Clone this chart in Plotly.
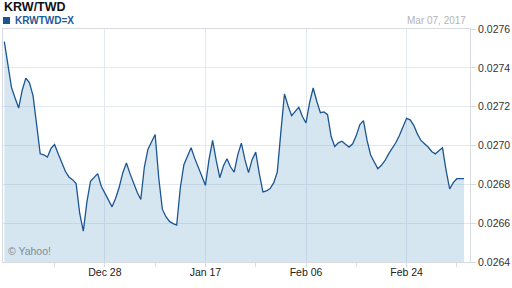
import pandas as pd
import plotly.graph_objects as go

pair = "KRW/TWD"
symbol = "KRWTWD=X"
as_of = "Mar 07, 2017"
credit = "\u00a9 Yahoo!"

start = "2016-12-08"
# half-day samples on trading days
rate = [
    0.027535, 0.027405, 0.027299, 0.027245, 0.027193, 0.027286, 0.027347, 0.027323,
    0.027257, 0.027108, 0.026957, 0.026952, 0.026940, 0.026985, 0.027005, 0.026957,
    0.026910, 0.026867, 0.026838, 0.026824, 0.026804, 0.026650, 0.026559, 0.026710,
    0.026816, 0.026838, 0.026855, 0.026790, 0.026752, 0.026718, 0.026684, 0.026728,
    0.026786, 0.026860, 0.026910, 0.026855, 0.026807, 0.026759, 0.026722, 0.026889,
    0.026981, 0.027017, 0.027057, 0.026834, 0.026672, 0.026633, 0.026609, 0.026598,
    0.026590, 0.026781, 0.026901, 0.026945, 0.026988, 0.026935, 0.026889, 0.026841,
    0.026795, 0.026928, 0.027026, 0.026923, 0.026834, 0.026894, 0.026932, 0.026889,
    0.026863, 0.026952, 0.027012, 0.026927, 0.026860, 0.026927, 0.026966, 0.026855,
    0.026761, 0.026766, 0.026778, 0.026807, 0.026863, 0.027069, 0.027265, 0.027205,
    0.027154, 0.027176, 0.027197, 0.027149, 0.027116, 0.027221, 0.027296, 0.027228,
    0.027169, 0.027173, 0.027159, 0.027046, 0.026995, 0.027014, 0.027022, 0.027007,
    0.026992, 0.027009, 0.027051, 0.027108, 0.027128, 0.027026, 0.026951, 0.026915,
    0.026881, 0.026898, 0.026923, 0.026957, 0.026986, 0.027014, 0.027051, 0.027101,
    0.027140, 0.027132, 0.027104, 0.027060, 0.027026, 0.027009, 0.026992, 0.026969,
    0.026957, 0.026973, 0.026988, 0.026872, 0.026776, 0.026809, 0.026829, 0.026829,
    0.026829,
]

tick_dates = ["2016-12-28", "2017-01-17", "2017-02-06", "2017-02-24"]
tick_labels = ["Dec 28", "Jan 17", "Feb 06", "Feb 24"]
minor_dates = ["2016-12-19", "2017-01-06", "2017-01-26", "2017-02-15", "2017-03-07"]
y_ticks = [0.0264, 0.0266, 0.0268, 0.0270, 0.0272, 0.0274, 0.0276]
x_range = ["2016-12-07 19:40", "2017-03-08 19:55"]
y_range = [0.0264, 0.0276]

stamps = pd.date_range(start, periods=400, freq="12h")
stamps = stamps[stamps.dayofweek < 5][: len(rate)]

LINE = "#1b5592"
GRID = "#e4e9f0"
AXIS = "#d8dce2"
FONT = "Liberation Sans, Arial, sans-serif"

fig = go.Figure()
fig.add_trace(go.Scatter(
    x=stamps, y=rate, mode="lines", name=symbol,
    line=dict(color=LINE, width=1.3),
    fill="tozeroy", fillcolor="rgba(70,140,190,0.22)",
    showlegend=False, hoverinfo="skip",
))

fig.update_layout(
    width=512, height=288,
    margin=dict(l=2, r=41, t=29, b=26),
    paper_bgcolor="white", plot_bgcolor="white",
    font=dict(family=FONT, size=10.5, color="#333333"),
    xaxis=dict(
        type="date", range=x_range,
        rangebreaks=[dict(bounds=["sat", "mon"])],
        tickmode="array", tickvals=tick_dates, ticktext=tick_labels,
        ticks="",
        showgrid=True, gridcolor=GRID, gridwidth=1,
        minor=dict(tickmode="array", tickvals=minor_dates + tick_dates,
                   ticks="outside", ticklen=4, tickcolor=AXIS, showgrid=False),
        showline=True, linecolor=AXIS, mirror=True,
        zeroline=False, tickfont=dict(size=10.5, color="#222222"),
    ),
    yaxis=dict(
        range=y_range, side="right",
        tickmode="array", tickvals=y_ticks, tickformat=".4f",
        ticks="outside", ticklen=5, tickcolor=AXIS,
        showgrid=True, gridcolor=GRID, gridwidth=1,
        showline=True, linecolor=AXIS, mirror=True,
        zeroline=False, tickfont=dict(size=10.5, color="#333333"),
    ),
    shapes=[dict(type="rect", xref="paper", yref="paper",
                 xsizemode="pixel", ysizemode="pixel",
                 xanchor=0, yanchor=1, x0=0, x1=7, y0=5, y1=12,
                 fillcolor=LINE, line=dict(width=0))],
    annotations=[
        dict(text="<b>%s</b>" % pair, xref="paper", yref="paper", x=0, y=1,
             xanchor="left", yanchor="middle", xshift=-1, yshift=22,
             showarrow=False, font=dict(size=12.5, color="#111111")),
        dict(text="<b>%s</b>" % symbol, xref="paper", yref="paper", x=0, y=1,
             xanchor="left", yanchor="middle", xshift=10, yshift=8.5,
             showarrow=False, font=dict(size=10, color="#1f5a96")),
        dict(text=as_of, xref="paper", yref="paper", x=1, y=1,
             xanchor="right", yanchor="middle", xshift=-2, yshift=9,
             showarrow=False, font=dict(size=10, color="#b4b4b4")),
        dict(text=credit, xref="paper", yref="paper", x=0, y=0,
             xanchor="left", yanchor="middle", xshift=3, yshift=11,
             showarrow=False, font=dict(size=10.5, color="#7f8a94")),
    ],
)

fig.write_html("out.html")
